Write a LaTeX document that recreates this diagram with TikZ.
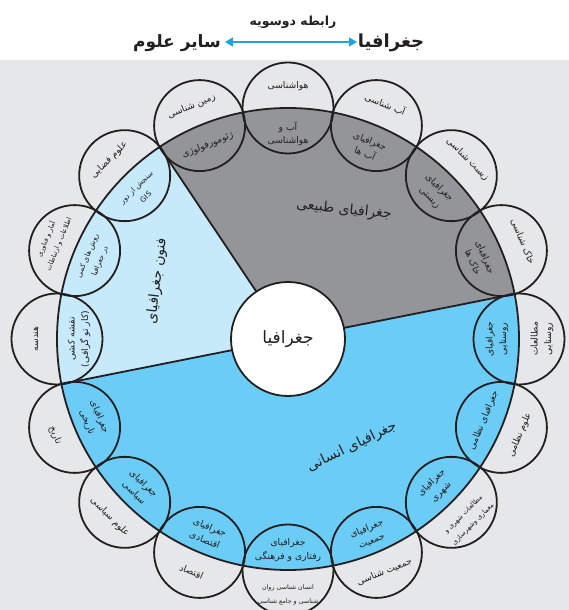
\documentclass[tikz,border=0pt]{standalone}
\usepackage{fontspec}
\newfontfamily\fa[Script=Arabic]{DejaVu Sans}
\TeXXeTstate=1
\usetikzlibrary{arrows.meta}
\definecolor{bgc}{HTML}{E6E7E8}
\definecolor{natc}{HTML}{939598}
\definecolor{tecc}{HTML}{C7EAFB}
\definecolor{humc}{HTML}{6BCDF6}
\definecolor{arrc}{HTML}{1BA6E3}
\definecolor{inkc}{HTML}{231F20}
\newcommand\RL[1]{\beginR#1\endR}
\newcommand\sm{\fontsize{7.4}{11}\selectfont}
\newcommand\xs{\fontsize{6.8}{10}\selectfont}
\newcommand\petal[7]{%
  \node[sc] (c#1) at (#2:231pt) {};
  \node[txt,rotate=#3] (i#1) at (#2:#6pt) {#4};
  \node[txt,rotate=#3] (o#1) at (#2:#7pt) {#5};
}
\begin{document}
\begin{tikzpicture}[x=1pt,y=1pt,
  sc/.style={circle,draw=inkc,line width=1.8pt,minimum size=91pt,inner sep=0pt},
  txt/.style={font=\fa\fontsize{9.2}{13.5}\selectfont,align=center,inner sep=0pt,text=inkc},
  big/.style={font=\fa\fontsize{14}{16}\selectfont,inner sep=0pt,text=inkc},
  rim/.style={draw=inkc,line width=1.8pt}]
\useasboundingbox (-288,-271) rectangle (281,339);
\fill[white] (-288,-271) rectangle (281,339);
\fill[bgc] (-288,-271) rectangle (281,279);
% sectors
\fill[natc] (0,0) -- (11.25:231pt) arc[start angle=11.25,end angle=123.75,radius=231pt] -- cycle;
\fill[tecc] (0,0) -- (123.75:231pt) arc[start angle=123.75,end angle=191.25,radius=231pt] -- cycle;
\fill[humc] (0,0) -- (191.25:231pt) arc[start angle=191.25,end angle=371.25,radius=231pt] -- cycle;
\node[circle,draw=inkc,line width=1.8pt,minimum size=462pt,inner sep=0pt] (rimc) at (0,0) {};
\coordinate (b1) at (11.25:231pt);
\coordinate (b2) at (123.75:231pt);
\coordinate (b3) at (191.25:231pt);
\coordinate (ctr) at (0,0);
\draw[rim] (ctr) -- (b1);
\draw[rim] (ctr) -- (b2);
\draw[rim] (ctr) -- (b3);
% petals
\petal{a}{90}{0}{\RL{آب و}\\\RL{هواشناسی}}{\RL{هواشناسی}}{205}{253}
\petal{b}{67.5}{-22.5}{\RL{جغرافیای}\\\RL{آب ها}}{\RL{آب شناسی}}{207}{254}
\petal{c}{45}{-45}{\RL{جغرافیای}\\\RL{زیستی}}{\RL{زیست شناسی}}{207}{254}
\petal{d}{22.5}{-67.5}{\RL{جغرافیای}\\\RL{خاک ها}}{\RL{خاک شناسی}}{207}{254}
\petal{e}{0}{90}{\RL{جغرافیای}\\\RL{روستایی}}{\RL{مطالعات}\\\RL{روستایی}}{209}{254}
\petal{f}{-22.5}{67.5}{\RL{جغرافیای نظامی}}{\RL{علوم نظامی}}{212}{251}
\petal{g}{-45}{45}{\RL{جغرافیای}\\\RL{شهری}}{\xs\RL{مطالعات شهری و}\\\xs\RL{معماری وشهرسازی}}{210}{255}
\petal{h}{-67.5}{22.5}{\RL{جغرافیای}\\\RL{جمعیت}}{\RL{جمعیت شناسی}}{212}{252}
\petal{i}{-90}{0}{\RL{جغرافیای}\\\RL{رفتاری و فرهنگی}}{\fontsize{6.3}{11}\selectfont\RL{انسان شناسی روان}\\\fontsize{6.3}{11}\selectfont\RL{شناسی و جامع شناسی}}{211}{256}
\petal{j}{-112.5}{-22.5}{\RL{جغرافیای}\\\RL{اقتصادی}}{\RL{اقتصاد}}{211}{252}
\petal{k}{-135}{-45}{\RL{جغرافیای}\\\RL{سیاسی}}{\RL{علوم سیاسی}}{211}{252}
\petal{l}{-157.5}{-67.5}{\RL{جغرافیای}\\\RL{تاریخی}}{\RL{تاریخ}}{211}{252}
\petal{m}{180}{90}{\RL{نقشه کشی}\\\RL{(کار تو گرافی)}}{\RL{هندسه}}{209}{252}
\petal{n}{157.5}{67.5}{\sm\RL{روش های کمی}\\\sm\RL{در جغرافیا}}{\xs\RL{آمار و فناوری}\\\xs\RL{اطلاعات و ارتباطات}}{210}{255}
\petal{o}{135}{45}{\sm\RL{سنجش از دور}\\\sm GIS}{\RL{علوم فضایی}}{208}{253}
\petal{p}{112.5}{22.5}{\RL{ژئومورفولوژی}}{\RL{زمین شناسی}}{210}{252}
% centre
\node[circle,draw=inkc,line width=1.8pt,fill=white,minimum size=114pt,inner sep=0pt] (geo) at (0,0) {};
\node[font=\fa\fontsize{17}{19}\selectfont,text=inkc] (geot) at (0,0) {\RL{جغرافیا}};
% sector labels
\node[big,rotate=-6] (nat) at (56,129) {\RL{جغرافیای طبیعی}};
\node[big,rotate=83] (tec) at (-131,58) {\RL{فنون جغرافیای}};
\node[big,rotate=26] (hum) at (64,-108) {\RL{جغرافیای انسانی}};
% title
\node[font=\fa\bfseries\fontsize{18}{20}\selectfont,text=inkc] (tg) at (103,296) {\RL{جغرافیا}};
\node[font=\fa\bfseries\fontsize{17}{19}\selectfont,text=inkc] (to) at (-111,296) {\RL{سایر علوم}};
\node[font=\fa\bfseries\fontsize{12.5}{14}\selectfont,text=inkc] (tr) at (5,317) {\RL{رابطه دوسویه}};
\coordinate (al) at (-63,297);
\coordinate (ar) at (69,297);
\draw[arrc,line width=1.6pt,{Triangle[length=8pt,width=9pt]}-{Triangle[length=8pt,width=9pt]}] (al) -- (ar);
\end{tikzpicture}
\end{document}
